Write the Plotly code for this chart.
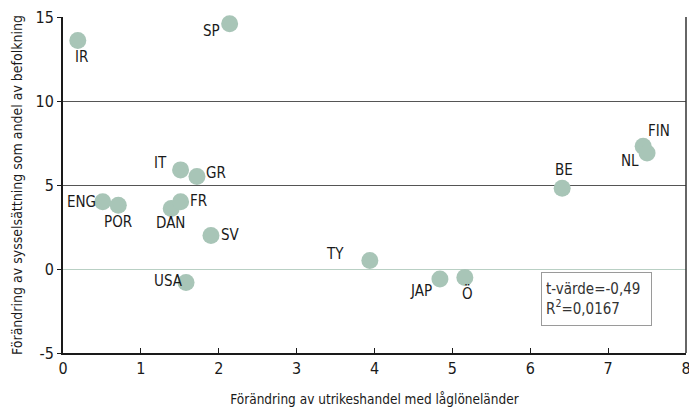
import plotly.graph_objects as go

countries = ["IR", "SP", "IT", "GR", "ENG", "POR", "DAN", "FR", "SV", "USA", "TY", "JAP", "Ö", "BE", "FIN", "NL"]
trade_change = [0.19, 2.14, 1.51, 1.72, 0.51, 0.71, 1.39, 1.51, 1.90, 1.58, 3.94, 4.84, 5.16, 6.41, 7.45, 7.50]
employment_change = [13.6, 14.6, 5.9, 5.5, 4.0, 3.8, 3.6, 4.0, 2.0, -0.8, 0.5, -0.6, -0.5, 4.8, 7.3, 6.9]
x_ticks = [0, 1, 2, 3, 4, 5, 6, 7, 8]
y_ticks = [-5, 0, 5, 10, 15]
# label offsets in pixels (dx right, dy up)
label_dx = [4, -18, -20, 19, -21, 0, -1, 18, 20, -18, -35, -19, 3, 2, 16, -17]
label_dy = [-16, -7, 7, 4, 0, -17, -14, 1, 0, 1, 7, -12, -16, 18, 15, -8]

FONT = "DejaVu Sans Condensed, Liberation Sans Narrow, Arial Narrow, sans-serif"
marker_color = "#a8c5b7"

fig = go.Figure()
fig.add_trace(go.Scatter(
    x=trade_change, y=employment_change, mode="markers",
    marker=dict(size=17, color=marker_color, line=dict(width=0)),
    hoverinfo="text", text=countries, showlegend=False, cliponaxis=False,
))

for c, x, y, dx, dy in zip(countries, trade_change, employment_change, label_dx, label_dy):
    fig.add_annotation(x=x, y=y, text=c, showarrow=False, xshift=dx, yshift=dy,
                       font=dict(family=FONT, size=15, color="#1a1a1a"))

fig.add_annotation(x=0.856, y=0.161, xref="paper", yref="paper",
                   text="t-värde=-0,49<br>R<sup>2</sup>=0,0167", showarrow=False,
                   align="left", xanchor="center", yanchor="middle",
                   bordercolor="#9a9a9a", borderwidth=1, borderpad=4,
                   bgcolor="white", width=101, height=44,
                   font=dict(family=FONT, size=15, color="#333333"))

fig.update_layout(
    width=689, height=409,
    margin=dict(l=63, r=3, t=17, b=56),
    paper_bgcolor="white", plot_bgcolor="white",
    font=dict(family=FONT, size=16, color="#1a1a1a"),
    xaxis=dict(
        range=[0, 8], tickvals=x_ticks, ticktext=[str(v) for v in x_ticks],
        showgrid=False, zeroline=False, automargin=False, ticklabeloverflow="allow",
        showline=True, linecolor="#1a1a1a", linewidth=2, mirror=False,
        ticks="inside", ticklen=5, tickcolor="#1a1a1a",
        title=dict(text="Förändring av utrikeshandel med låglöneländer",
                   font=dict(family=FONT, size=13.5), standoff=17),
    ),
    yaxis=dict(
        range=[-5, 15], tickvals=y_ticks, ticktext=[str(v) for v in y_ticks],
        showgrid=True, gridcolor="#555555", gridwidth=1, automargin=False,
        ticklabeloverflow="allow",
        zeroline=True, zerolinecolor="#b9d0c4", zerolinewidth=1,
        showline=True, linecolor="#1a1a1a", linewidth=2,
        ticks="outside", ticklen=4, tickcolor="#1a1a1a",
        title=dict(text="Förändring av sysselsättning som andel av befolkning",
                   font=dict(family=FONT, size=14), standoff=10),
    ),
)
fig.add_shape(type="line", xref="paper", yref="paper", x0=1, x1=1, y0=0, y1=1,
              line=dict(color="#333333", width=1.5))

fig.write_html("out.html", config={"displayModeBar": False},
               post_script="document.body.style.margin='0';")
